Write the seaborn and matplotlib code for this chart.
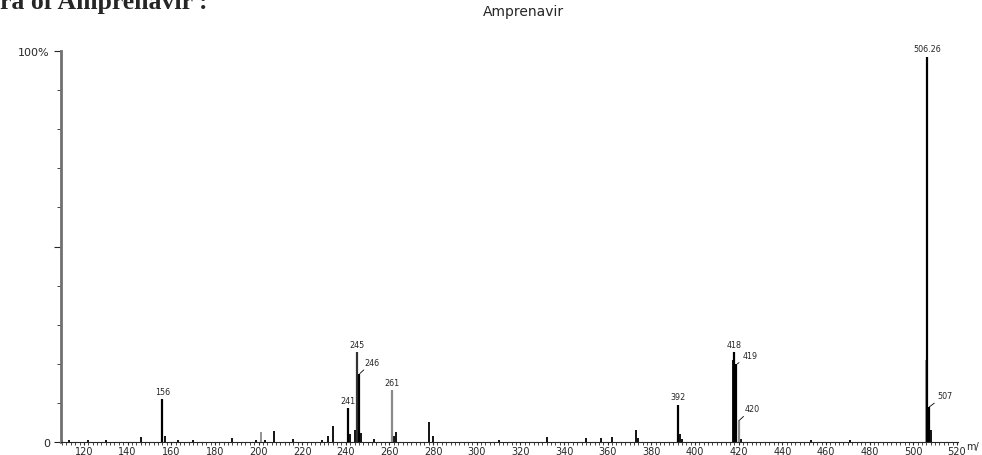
import matplotlib
matplotlib.use("Agg")
import matplotlib.pyplot as plt
import seaborn as sns
from matplotlib.ticker import MultipleLocator

# peak list (m/z, relative intensity %)
mz_main = [156, 241, 245, 246, 261, 392, 418, 419, 420, 506.26, 507]
int_main = [11.0, 8.7, 23.0, 17.5, 13.3, 9.5, 23.0, 20.0, 5.6, 98.5, 9.0]
main_colors = ["black", "black", "#333333", "black", "#8a8a8a", "black",
               "black", "black", "#8a8a8a", "black", "black"]
labels = ["156", "241", "245", "246", "261", "392", "418", "419", "420",
          "506.26", "507"]

# small peaks near the baseline
mz_small = [110, 113, 122, 130, 146, 157, 163, 170, 188, 199, 201, 203, 207,
            216, 229, 232, 234, 242, 244, 247, 253, 262, 263, 278, 280, 310,
            332, 350, 357, 362, 373, 374, 393, 394, 417.6, 421, 453, 471,
            505.8, 508]
int_small = [0.6, 0.4, 0.5, 0.5, 1.2, 1.5, 0.4, 0.5, 1.0, 0.4, 2.5, 0.5, 2.8,
             0.8, 0.5, 1.5, 4.0, 2.0, 3.0, 2.3, 0.8, 1.5, 2.5, 5.0, 1.5, 0.4,
             1.3, 1.0, 1.0, 1.3, 3.0, 1.0, 2.0, 0.8, 21.0, 0.8, 0.4, 0.4,
             21.0, 3.0]
small_colors = ["black"] * len(mz_small)
small_colors[10] = "#8a8a8a"
small_colors[38] = "#9a9a9a"

sns.set_style("ticks")
plt.rcParams["font.family"] = ["DejaVu Sans"]

fig = plt.figure(figsize=(9.82, 4.56), dpi=100)
ax = fig.add_axes([61 / 982, 13 / 456, 897 / 982, 391 / 456])

ax.vlines(mz_small, 0, int_small, colors=small_colors, linewidth=1.3)
ax.vlines(mz_main, 0, int_main, colors=main_colors, linewidth=1.6)

# labels with a leader line, offsets in points
leaders = {"246": (9, 5), "419": (9, 3), "420": (9, 5), "507": (11, 5)}
for x, y, lab in zip(mz_main, int_main, labels):
    if lab in leaders:
        ax.annotate(lab, xy=(x + 0.4, y), xytext=leaders[lab],
                    textcoords="offset points", fontsize=5.8, ha="center",
                    va="bottom",
                    arrowprops=dict(arrowstyle="-", lw=0.6, color="black",
                                    shrinkA=0, shrinkB=0))
    else:
        ax.annotate(lab, xy=(x, y), xytext=(0, 2.5),
                    textcoords="offset points", fontsize=5.8, ha="center",
                    va="bottom")

ax.set_xlim(109.5, 520.5)
ax.set_ylim(0, 100)
ax.xaxis.set_minor_locator(MultipleLocator(2))
ax.yaxis.set_minor_locator(MultipleLocator(10))
ax.set_yticks([0, 50, 100])
ax.set_yticklabels(["0", "", "100%"])
ax.set_xticks(range(120, 521, 20))
ax.tick_params(axis="x", which="major", length=2.5, width=0.8, labelsize=7,
               pad=0.5)
ax.tick_params(axis="x", which="minor", length=2, width=0.6)
ax.tick_params(axis="y", which="major", length=5, width=0.8, labelsize=8,
               pad=3)
ax.tick_params(axis="y", which="minor", length=3, width=0.6)

sns.despine(ax=ax)
ax.spines["left"].set_color("#707070")
ax.spines["left"].set_linewidth(2)
ax.spines["bottom"].set_linewidth(0.8)

fig.text(523 / 982, 1 - 12 / 456, "Amprenavir", fontsize=10, ha="center",
         va="center")
fig.text(966 / 982, 9 / 456, "m/", fontsize=7, ha="left", va="center")
fig.text(0, 1 - 9 / 456, "ra of Amprenavir :", fontsize=18.5,
         fontweight="bold", family="Liberation Serif", ha="left",
         va="baseline")

fig.savefig("out.png", dpi=100)
